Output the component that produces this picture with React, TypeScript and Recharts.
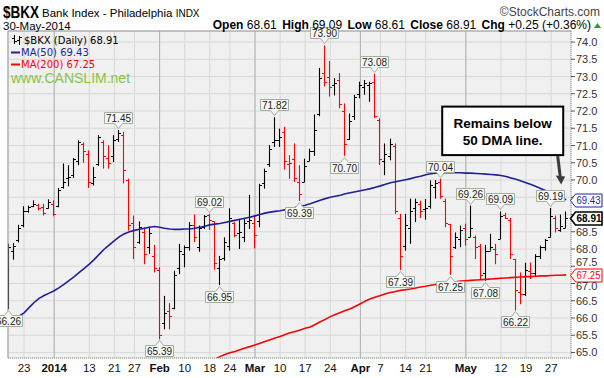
import {
  ComposedChart,
  Bar,
  Line,
  XAxis,
  YAxis,
  CartesianGrid,
  ReferenceLine,
  ReferenceDot,
} from "recharts";

// trading days shown, Dec 18 2013 .. May 30 2014
const dates = [
  "Dec 18", "Dec 19", "Dec 20", "Dec 23", "Dec 24", "Dec 26", "Dec 27", "Dec 30", "Dec 31",
  "Jan 2", "Jan 3", "Jan 6", "Jan 7", "Jan 8", "Jan 9", "Jan 10", "Jan 13", "Jan 14", "Jan 15",
  "Jan 16", "Jan 17", "Jan 21", "Jan 22", "Jan 23", "Jan 24", "Jan 27", "Jan 28", "Jan 29",
  "Jan 30", "Jan 31",
  "Feb 3", "Feb 4", "Feb 5", "Feb 6", "Feb 7", "Feb 10", "Feb 11", "Feb 12", "Feb 13", "Feb 14",
  "Feb 18", "Feb 19", "Feb 20", "Feb 21", "Feb 24", "Feb 25", "Feb 26", "Feb 27", "Feb 28",
  "Mar 3", "Mar 4", "Mar 5", "Mar 6", "Mar 7", "Mar 10", "Mar 11", "Mar 12", "Mar 13", "Mar 14",
  "Mar 17", "Mar 18", "Mar 19", "Mar 20", "Mar 21", "Mar 24", "Mar 25", "Mar 26", "Mar 27",
  "Mar 28", "Mar 31",
  "Apr 1", "Apr 2", "Apr 3", "Apr 4", "Apr 7", "Apr 8", "Apr 9", "Apr 10", "Apr 11", "Apr 14",
  "Apr 15", "Apr 16", "Apr 17", "Apr 21", "Apr 22", "Apr 23", "Apr 24", "Apr 25", "Apr 28",
  "Apr 29", "Apr 30",
  "May 1", "May 2", "May 5", "May 6", "May 7", "May 8", "May 9", "May 12", "May 13", "May 14",
  "May 15", "May 16", "May 19", "May 20", "May 21", "May 22", "May 23", "May 27", "May 28",
  "May 29", "May 30",
];

const opens = [
  66.4, 67.95, 68.25, 68.7, 69.1, 69.25, 69.28, 69.22, 69.2,
  69.3, 69.25, 69.8, 70.05, 70.15, 70.55, 71.05, 70.75, 69.9, 70.45, 71.1, 70.65, 70.7, 71.2, 71.3, 70.0, 68.75, 68.2, 68.5, 68.05, 67.8,
  67.4, 65.85, 66.2, 66.3, 67.45, 67.85, 68.05, 68.7, 68.05, 68.65, 69.0, 68.8, 67.45, 67.75, 68.1, 68.75, 68.45, 68.35, 68.8,
  68.75, 68.8, 69.9, 70.45, 71.1, 71.15, 71.4, 70.45, 70.6, 69.95, 69.95, 70.55, 70.85, 71.9, 73.1, 73.0, 72.75, 72.9, 72.0, 71.2, 71.85,
  72.5, 72.7, 72.75, 72.85, 71.75, 70.55, 70.7, 71.0, 68.9, 68.1, 68.6, 69.2, 69.3, 69.15, 69.25, 69.8, 69.95, 69.4, 68.73, 68.05, 68.3,
  68.6, 68.35, 68.35, 68.1, 67.3, 67.95, 68.0, 68.3, 69.0, 68.85, 67.7, 66.75, 66.7, 67.35, 67.3, 67.8, 68.05, 68.35, 68.9, 68.55, 68.61,
];

const highs = [
  68.15, 68.17, 68.7, 69.24, 69.26, 69.41, 69.31, 69.31, 69.44,
  69.41, 69.77, 70.48, 70.43, 70.64, 71.15, 71.09, 70.86, 70.38, 71.3, 71.15, 71.01, 71.3, 71.45, 71.4, 70.04, 68.97, 68.8, 68.63, 68.65, 68.12,
  67.47, 66.64, 66.43, 67.37, 68.15, 68.1, 68.78, 69.0, 68.68, 68.98, 69.02, 68.8, 67.8, 68.34, 69.18, 68.78, 68.87, 68.87, 69.57,
  68.97, 69.89, 70.33, 71.01, 71.82, 71.49, 71.54, 70.72, 71.06, 70.43, 70.62, 70.91, 71.9, 73.25, 73.9, 73.45, 72.95, 73.1, 72.22, 71.93, 72.47,
  72.85, 72.9, 72.85, 73.08, 71.79, 71.06, 71.2, 71.06, 69.02, 69.02, 69.46, 69.46, 69.4, 69.45, 69.99, 70.0, 70.04, 69.46, 68.73, 68.48, 68.68,
  68.73, 69.26, 68.39, 68.15, 68.12, 68.44, 68.15, 69.09, 69.05, 68.9, 67.71, 67.32, 67.6, 67.61, 67.85, 68.1, 68.29, 69.19, 68.97, 69.0, 69.09,
];

const lows = [
  66.26, 67.69, 68.19, 68.63, 69.05, 69.21, 69.12, 68.97, 69.17,
  68.95, 69.21, 69.75, 69.82, 70.06, 70.43, 70.5, 69.77, 69.84, 70.41, 70.33, 70.33, 70.52, 71.1, 69.9, 68.53, 67.71, 68.15, 67.56, 67.86, 67.32,
  65.39, 65.67, 65.67, 66.25, 67.27, 67.47, 67.95, 68.2, 67.92, 68.58, 68.55, 67.4, 66.95, 67.66, 67.95, 68.34, 68.0, 68.2, 68.58,
  68.02, 68.63, 69.75, 70.38, 70.96, 70.96, 70.3, 70.04, 69.94, 69.39, 69.94, 70.55, 70.7, 71.85, 72.71, 72.42, 72.45, 72.08, 70.7, 71.16, 71.74,
  72.37, 72.47, 72.27, 71.79, 70.43, 70.14, 70.57, 69.02, 67.39, 67.95, 68.15, 68.78, 68.9, 68.85, 69.17, 69.46, 69.46, 68.63, 67.25, 68.0, 68.05,
  68.1, 68.34, 67.71, 67.12, 67.08, 67.95, 67.56, 68.29, 68.87, 67.71, 66.22, 66.4, 66.64, 67.13, 67.22, 67.71, 67.95, 68.34, 68.48, 68.5, 68.61,
];

const closes = [
  68.05, 68.1, 68.6, 69.1, 69.22, 69.3, 69.2, 69.05, 69.35,
  69.02, 69.7, 69.95, 70.1, 70.6, 71.1, 70.85, 69.95, 70.1, 71.25, 70.7, 70.5, 71.15, 71.35, 70.3, 68.7, 68.05, 68.65, 67.85, 68.45, 67.45,
  65.5, 66.15, 66.05, 67.25, 67.95, 68.05, 68.7, 68.35, 68.6, 68.95, 68.85, 67.6, 67.7, 68.2, 68.9, 68.4, 68.5, 68.75, 68.85,
  68.4, 69.85, 70.25, 70.9, 71.15, 71.25, 70.55, 70.5, 70.05, 69.6, 70.4, 70.85, 71.45, 72.95, 72.85, 72.7, 72.8, 72.2, 71.05, 71.7, 72.4,
  72.75, 72.8, 72.82, 71.85, 70.6, 70.75, 71.05, 69.1, 67.8, 68.7, 69.1, 69.35, 69.1, 69.2, 69.85, 69.9, 69.55, 68.75, 67.8, 68.35, 68.55,
  68.3, 68.6, 68.05, 67.25, 67.95, 68.05, 67.85, 68.95, 68.9, 67.85, 66.8, 66.7, 67.4, 67.3, 67.8, 68.05, 68.25, 68.95, 68.6, 68.66, 68.91,
];

const ma50 = [
  65.95, 66.0, 66.05, 66.15, 66.3, 66.45, 66.57, 66.65, 66.72, 66.79,
  66.88, 66.98, 67.09, 67.2, 67.32, 67.44, 67.56, 67.7, 67.85, 68.0,
  68.12, 68.24, 68.36, 68.44, 68.5, 68.54, 68.57, 68.6, 68.63, 68.65,
  68.63, 68.6, 68.58, 68.57, 68.57, 68.58, 68.58, 68.6, 68.63, 68.66,
  68.7, 68.72, 68.74, 68.77, 68.8, 68.83, 68.86, 68.89, 68.92, 68.96,
  69.0, 69.04, 69.07, 69.09, 69.11, 69.14, 69.16, 69.2, 69.24, 69.27,
  69.31, 69.36, 69.41, 69.46, 69.5, 69.53, 69.56, 69.6, 69.63, 69.66,
  69.69, 69.72, 69.75, 69.79, 69.83, 69.88, 69.92, 69.95, 69.98, 70.01,
  70.04, 70.08, 70.11, 70.15, 70.18, 70.2, 70.21, 70.21, 70.21, 70.21,
  70.21, 70.2, 70.2, 70.19, 70.18, 70.17, 70.16, 70.15, 70.13, 70.1,
  70.06, 70.02, 69.97, 69.92, 69.87, 69.81, 69.75, 69.69, 69.62, 69.55,
  69.49, 69.43,
];

// MA(200) is below the visible range before late February
const ma200 = [
  null, null, null, null, null, null, null, null, null, null,
  null, null, null, null, null, null, null, null, null, null,
  null, null, null, null, null, null, null, null, null, null,
  null, null, null, null, null, null, null, null, null, null,
  64.74, 64.8, 64.88, 64.94, 64.99, 65.03, 65.08, 65.13, 65.17, 65.22,
  65.27, 65.32, 65.37, 65.42, 65.46, 65.52, 65.57, 65.61, 65.65, 65.7,
  65.74, 65.81, 65.89, 65.96, 66.04, 66.1, 66.16, 66.22, 66.27, 66.34,
  66.41, 66.49, 66.56, 66.61, 66.65, 66.7, 66.74, 66.77, 66.8, 66.82,
  66.84, 66.87, 66.9, 66.92, 66.95, 66.97, 66.99, 67.01, 67.03, 67.05,
  67.07, 67.08, 67.09, 67.1, 67.11, 67.12, 67.13, 67.14, 67.15, 67.16,
  67.17, 67.18, 67.19, 67.2, 67.2, 67.21, 67.22, 67.22, 67.23, 67.24,
  67.24, 67.25,
];

const tickIdx = [3, 9, 16, 21, 25, 30, 35, 40, 44, 49, 54, 59, 64, 70, 74, 79, 83, 91, 98, 103, 108];
const tickLabels = ["23", "2014", "13", "21", "27", "Feb", "10", "18", "24", "Mar", "10", "17", "24", "Apr", "7", "14", "21", "May", "12", "19", "27"];
const boldLabels = ["2014", "Feb", "Mar", "Apr", "May"];
const monthIdx = [9, 30, 49, 70, 91];

const priceTicks = [65, 65.5, 66, 66.5, 67, 67.5, 68, 68.5, 69, 69.5, 70, 70.5, 71, 71.5, 72, 72.5, 73, 73.5, 74];
const hiddenTicks = [69, 69.5];

const highMarks = [22, 40, 53, 63, 73, 86, 92, 98, 108];
const lowMarks = [0, 30, 42, 58, 67, 78, 88, 95, 101];

const Y_MIN = 64.84;
const Y_MAX = 74.32;
const X_MIN = -0.2;
const X_MAX = 111.95;

const ARIAL = "'Liberation Sans', Arial, sans-serif";
const VERDANA = "'DejaVu Sans', Verdana, sans-serif";
const NAVY = "#1f1f96";
const RED = "#ff0000";

const data = dates.map((d, i) => ({
  idx: i,
  date: d,
  open: opens[i],
  high: highs[i],
  low: lows[i],
  close: closes[i],
  range: [lows[i], highs[i]],
  up: i === 0 || closes[i] > closes[i - 1],
  ma50: ma50[i],
  ma200: ma200[i],
}));

// eslint-disable-next-line @typescript-eslint/no-explicit-any
const OhlcShape = (props: any) => {
  const { x, y, width, height, payload } = props;
  if (payload == null || x == null || y == null) return null;
  const top = Math.min(y, y + height);
  const bottom = Math.max(y, y + height);
  const cx = Math.round(x + width / 2) - 0.5;
  const span = payload.high - payload.low;
  const py = (p: number) =>
    span > 0 ? top + ((payload.high - p) / span) * (bottom - top) : top;
  const yo = Math.round(py(payload.open)) + 0.5;
  const yc = Math.round(py(payload.close)) + 0.5;
  const color = payload.up ? "#000000" : RED;
  return (
    <g>
      <line x1={cx} x2={cx} y1={top} y2={Math.max(bottom, top + 1)} stroke={color} strokeWidth={1.1} />
      <line x1={cx - 2.5} x2={cx} y1={yo} y2={yo} stroke={color} strokeWidth={1} />
      <line x1={cx} x2={cx + 2.5} y1={yc} y2={yc} stroke={color} strokeWidth={1} />
    </g>
  );
};

const PriceTag = ({ cx, cy, text, above }: { cx: number; cy: number; text: string; above: boolean }) => {
  const w = 28;
  const h = 11;
  const tail = 5;
  const x = Math.round(cx) - 0.5;
  const bx = x - w / 2;
  let path: string;
  let by: number;
  if (above) {
    const tip = Math.round(cy) - 1.5;
    by = tip - tail - h;
    path = `M${bx},${by} H${bx + w} V${by + h} H${x + 4} L${x},${tip} L${x - 4},${by + h} H${bx} Z`;
  } else {
    const tip = Math.round(cy) + 1.5;
    by = tip + tail;
    path = `M${bx},${by} H${x - 4} L${x},${tip} L${x + 4},${by} H${bx + w} V${by + h} H${bx} Z`;
  }
  return (
    <g>
      <path d={path} fill="#f6f7f3" stroke="#a3aea3" strokeWidth={1} />
      <text x={x} y={by + h - 2} textAnchor="middle" fontSize={10} fontFamily={ARIAL} fill="#222">
        {text}
      </text>
    </g>
  );
};

const SideTag = ({ cx, cy, text, color, bold }: { cx: number; cy: number; text: string; color: string; bold?: boolean }) => {
  const x0 = Math.round(cx) + 4.5;
  const yc = Math.round(cy) + 0.5;
  const hh = 6.5;
  const path = `M${x0},${yc} L${x0 + 5},${yc - hh} H${x0 + 31.5} V${yc + hh} H${x0 + 5} Z`;
  return (
    <g>
      <path d={path} fill="#ffffff" stroke={color} strokeWidth={bold ? 1.6 : 1} />
      <text
        x={x0 + 6}
        y={yc + 3.5}
        fontSize={10}
        fontFamily={ARIAL}
        fontWeight={bold ? 700 : 400}
        fill={bold ? "#000" : color}
        textLength={bold ? 25 : 24}
        lengthAdjust="spacingAndGlyphs"
      >
        {text}
      </text>
    </g>
  );
};

const Callout = ({ cx, cy }: { cx: number; cy: number }) => {
  const left = cx - 119;
  const right = cx + 2;
  const top = cy - 91;
  const bottom = cy - 42.5;
  const mid = (left + right) / 2;
  return (
    <g>
      <rect x={left} y={top} width={right - left} height={bottom - top} fill="#ffffff" stroke="#000" strokeWidth={2} />
      <text x={mid} y={top + 21} textAnchor="middle" fontSize={13.5} fontWeight={700} fontFamily={ARIAL} fill="#000">
        Remains below
      </text>
      <text x={mid} y={top + 38} textAnchor="middle" fontSize={13.5} fontWeight={700} fontFamily={ARIAL} fill="#000">
        50 DMA line.
      </text>
      <line x1={cx - 3.5} y1={bottom + 1} x2={cx - 1} y2={cy - 21} stroke="#3c3c3c" strokeWidth={3} />
      <polygon points={`${cx - 5.5},${cy - 22} ${cx + 4},${cy - 21} ${cx},${cy - 13}`} fill="#3c3c3c" />
    </g>
  );
};

// eslint-disable-next-line @typescript-eslint/no-explicit-any
const XTick = (props: any) => {
  const { x, y, payload } = props;
  const k = tickIdx.indexOf(payload.value);
  if (k < 0) return null;
  const label = tickLabels[k];
  const bold = boldLabels.includes(label);
  return (
    <text x={x} y={y + 13.5} textAnchor="middle" fontSize={11.5} fontWeight={bold ? 700 : 400} fontFamily={ARIAL} fill="#111">
      {label}
    </text>
  );
};

// eslint-disable-next-line @typescript-eslint/no-explicit-any
const YTick = (props: any) => {
  const { x, y, payload } = props;
  const v = payload.value as number;
  if (hiddenTicks.includes(v)) return null;
  let dy = 0;
  if (v === 67.5) dy = -4.5;
  if (v === 67) dy = 3;
  return (
    <text x={x} y={y + dy + 4} textAnchor="start" fontSize={11} fontFamily={ARIAL} fill="#333">
      {v.toFixed(1)}
    </text>
  );
};

// eslint-disable-next-line @typescript-eslint/no-explicit-any
const monthLines = (args: any) => {
  const s = args?.xAxis?.scale;
  if (!s) return [];
  return monthIdx.map((i) => (typeof s === "function" ? s(i) : s.map ? s.map(i) : 0));
};

export default function App() {
  const last = dates.length - 1;
  return (
    <div style={{ position: "absolute", left: 0, top: 0, width: 604, height: 378, background: "#ffffff", overflow: "hidden" }}>
      <ComposedChart
        width={604}
        height={378}
        data={data}
        margin={{ top: 31, right: 0, bottom: 0, left: 8 }}
      >
        <CartesianGrid fill="#f0f0f0" stroke="#d8d8d8" strokeWidth={1} />
        <CartesianGrid horizontal={false} stroke="#b2b2b2" strokeWidth={1} verticalCoordinatesGenerator={monthLines} />
        <XAxis
          type="number"
          dataKey="idx"
          domain={[X_MIN, X_MAX]}
          allowDataOverflow
          ticks={tickIdx}
          interval={0}
          height={20}
          tickSize={0}
          tickMargin={0}
          tickLine={false}
          axisLine={{ stroke: "#8d9e8d", strokeDasharray: "1 1" }}
          tick={<XTick />}
        />
        <YAxis
          orientation="right"
          type="number"
          domain={[Y_MIN, Y_MAX]}
          allowDataOverflow
          ticks={priceTicks}
          interval={0}
          width={33}
          tickSize={4}
          tickMargin={1}
          tickLine={{ stroke: "#555" }}
          axisLine={{ stroke: "#8d9e8d", strokeDasharray: "1 1" }}
          tick={<YTick />}
        />
        <ReferenceLine x={X_MIN} stroke="#9a9a9a" ifOverflow="visible" />
        <ReferenceLine y={Y_MAX} stroke="#9a9a9a" ifOverflow="visible" />
        <Bar dataKey="range" barSize={5} shape={<OhlcShape />} isAnimationActive={false} />
        <Line
          type="linear"
          dataKey="ma50"
          stroke={NAVY}
          strokeWidth={1.6}
          dot={false}
          activeDot={false}
          isAnimationActive={false}
        />
        <Line
          type="linear"
          dataKey="ma200"
          stroke={RED}
          strokeWidth={1.6}
          dot={false}
          activeDot={false}
          isAnimationActive={false}
        />
        {highMarks.map((i) => (
          <ReferenceDot
            key={`h${i}`}
            x={i}
            y={highs[i]}
            r={1}
            ifOverflow="visible"
            // eslint-disable-next-line @typescript-eslint/no-explicit-any
            shape={(p: any) => <PriceTag cx={p.cx} cy={p.cy} text={highs[i].toFixed(2)} above />}
          />
        ))}
        {lowMarks.map((i) => (
          <ReferenceDot
            key={`l${i}`}
            x={i}
            y={lows[i]}
            r={1}
            ifOverflow="visible"
            // eslint-disable-next-line @typescript-eslint/no-explicit-any
            shape={(p: any) => <PriceTag cx={p.cx} cy={p.cy} text={lows[i].toFixed(2)} above={false} />}
          />
        ))}
        <ReferenceDot
          x={last}
          y={ma50[last]}
          r={1}
          ifOverflow="visible"
          // eslint-disable-next-line @typescript-eslint/no-explicit-any
          shape={(p: any) => <SideTag cx={p.cx} cy={p.cy} text={ma50[last].toFixed(2)} color={NAVY} />}
        />
        <ReferenceDot
          x={last}
          y={ma200[last] as number}
          r={1}
          ifOverflow="visible"
          // eslint-disable-next-line @typescript-eslint/no-explicit-any
          shape={(p: any) => <SideTag cx={p.cx} cy={p.cy} text={(ma200[last] as number).toFixed(2)} color={RED} />}
        />
        <ReferenceDot
          x={last}
          y={closes[last]}
          r={1}
          ifOverflow="visible"
          // eslint-disable-next-line @typescript-eslint/no-explicit-any
          shape={(p: any) => <SideTag cx={p.cx} cy={p.cy} text={closes[last].toFixed(2)} color="#000" bold />}
        />
        <ReferenceDot
          x={110}
          y={ma50[110]}
          r={1}
          ifOverflow="visible"
          // eslint-disable-next-line @typescript-eslint/no-explicit-any
          shape={(p: any) => <Callout cx={p.cx} cy={p.cy} />}
        />
      </ComposedChart>

      <svg width={604} height={378} style={{ position: "absolute", left: 0, top: 0, pointerEvents: "none" }}>
        <text x={3} y={18} fontSize={17} fontWeight={700} fontFamily={ARIAL} fill="#000" textLength={36} lengthAdjust="spacingAndGlyphs">
          $BKX
        </text>
        <text x={42} y={17} fontSize={11.5} fontFamily={ARIAL} fill="#000">
          Bank Index - Philadelphia <tspan fontSize={10}>INDX</tspan>
        </text>
        <text x={600} y={16} textAnchor="end" fontSize={12} fontFamily={ARIAL} fill="#444">
          ©StockCharts.com
        </text>
        <text x={3} y={30} fontSize={11.5} fontFamily={ARIAL} fill="#000">
          30-May-2014
        </text>
        <text x={591} y={29} textAnchor="end" fontSize={12} fontFamily={ARIAL} fill="#000">
          <tspan fontWeight={700}>Open</tspan> {opens[last].toFixed(2)}
          <tspan dx={2} fontWeight={700}> High</tspan> {highs[last].toFixed(2)}
          <tspan dx={2} fontWeight={700}> Low</tspan> {lows[last].toFixed(2)}
          <tspan dx={2} fontWeight={700}> Close</tspan> {closes[last].toFixed(2)}
          <tspan dx={2} fontWeight={700}> Chg</tspan> +0.25 (+0.36%)
        </text>
        <polygon points="594,28 601,28 597.5,23" fill="#1fa51f" />

        <g stroke="#000" strokeWidth={1}>
          <line x1={14.5} x2={14.5} y1={35} y2={44} />
          <line x1={12} x2={14.5} y1={38.5} y2={38.5} />
          <line x1={14.5} x2={17} y1={41.5} y2={41.5} />
          <line x1={19.5} x2={19.5} y1={36} y2={45} />
          <line x1={17} x2={19.5} y1={40.5} y2={40.5} />
          <line x1={19.5} x2={22} y1={37.5} y2={37.5} />
        </g>
        <text x={24} y={44} fontSize={10} fontFamily={VERDANA} fill="#000">
          $BKX (Daily) {closes[last].toFixed(2)}
        </text>
        <line x1={11} x2={20} y1={52.5} y2={52.5} stroke={NAVY} strokeWidth={2} />
        <text x={21} y={56} fontSize={10} fontFamily={VERDANA} fill={NAVY}>
          MA(50) {ma50[last].toFixed(2)}
        </text>
        <line x1={11} x2={20} y1={64.5} y2={64.5} stroke={RED} strokeWidth={2} />
        <text x={21} y={68} fontSize={10} fontFamily={VERDANA} fill={RED}>
          MA(200) {(ma200[last] as number).toFixed(2)}
        </text>
        <text x={11} y={83} fontSize={14} fontFamily={ARIAL} fill="#86c540">
          www.CANSLIM.net
        </text>
      </svg>
    </div>
  );
}
